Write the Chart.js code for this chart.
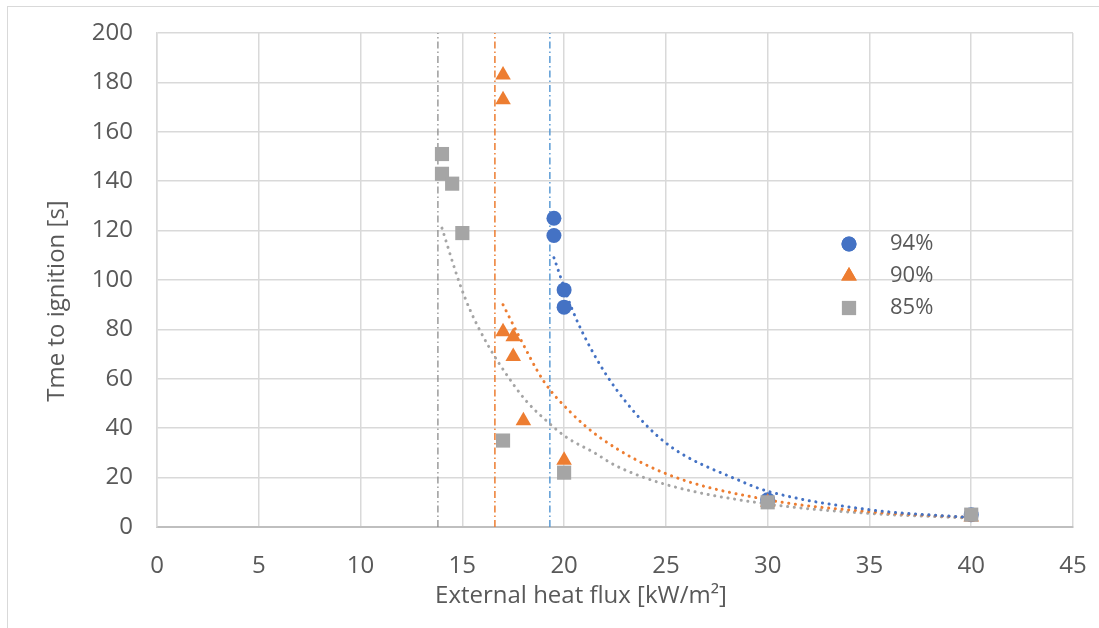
<!DOCTYPE html>
<html>
<head>
<meta charset="utf-8">
<script src="https://cdn.jsdelivr.net/npm/chart.js@4.4.0/dist/chart.umd.min.js"></script>
<style>
  body { margin: 0; background: #fff; }
  #wrap { position: relative; width: 1099px; height: 628px; overflow: hidden; }
  #frame { position: absolute; left: 7px; top: 6px; width: 1100px; height: 640px; border: 1.5px solid #d9d9d9; }
  #grafica { position: absolute; left: 0; top: 0; }
</style>
</head>
<body>
<div id="wrap">
  <div id="frame"></div>
  <canvas id="grafica" width="1099" height="628"></canvas>
</div>
<script>
// measured ignition times
var x94 = [19.5, 19.5, 20, 20, 30, 40];
var y94 = [125, 118, 96, 89, 11, 5];
var x90 = [17, 17, 17, 17.5, 17.5, 18, 20, 30, 40];
var y90 = [183, 173, 79, 77, 69, 43, 27, 10, 4];
var x85 = [14, 14, 14.5, 15, 17, 20, 30, 40];
var y85 = [151, 143, 139, 119, 35, 22, 10, 5];

// trend curves (power fit) read at a few heat flux values
var tx94 = [19.5, 20.4, 21.6, 23, 25, 28.7, 30, 35, 40];
var ty94 = [109, 88, 68, 51, 34, 18.5, 14.5, 7, 3.8];
var tx90 = [17, 17.8, 19, 20.3, 21.8, 25, 30, 35, 40];
var ty90 = [90, 77, 59, 46.6, 36, 21.6, 11, 6.2, 3.8];
var tx85 = [14, 14.85, 15.4, 16.3, 17.15, 18.1, 19.2, 20.1, 21.5, 22.5, 25, 30, 35, 40];
var ty85 = [121, 99, 87.5, 73, 62, 51.4, 42.5, 36.4, 30, 25, 17.2, 9.3, 5.5, 3.6];

// critical heat flux markers
var critX = [19.3, 16.6, 13.8];

var labels = ["94%", "90%", "85%"];
var colors = ["#4472c4", "#ed7d31", "#a5a5a5"];
var xTitle = "External heat flux [kW/m²]";
var yTitle = "Tme to ignition [s]";

function pts(xs, ys) {
    var out = [];
    for (var i = 0; i < xs.length; i++) out.push({x: xs[i], y: ys[i]});
    return out;
}

function scatterSet(label, xs, ys, color, style, r, ord) {
    return {
        type: 'scatter',
        label: label,
        data: pts(xs, ys),
        backgroundColor: color,
        borderColor: color,
        borderWidth: 0,
        pointStyle: style,
        pointRadius: r,
        order: ord
    };
}

function trendSet(xs, ys, color) {
    return {
        type: 'line',
        data: pts(xs, ys),
        borderColor: color,
        borderWidth: 3,
        borderDash: [0.1, 6.6],
        borderCapStyle: 'round',
        cubicInterpolationMode: 'monotone',
        pointRadius: 0,
        fill: false,
        order: 4
    };
}

function critSet(x, color, w) {
    return {
        type: 'line',
        data: [{x: x, y: 0}, {x: x, y: 200}],
        borderColor: color,
        borderWidth: w,
        borderDash: [7, 3, 1.5, 3],
        pointRadius: 0,
        fill: false,
        order: 5
    };
}

var FONT = "'Open Sans', 'DejaVu Sans', sans-serif";
var TEXT = '#595959';

// legend over the plot area (no box) and both axis titles
var textPlugin = {
    id: 'plotText',
    afterDraw: function(chart) {
        var ctx = chart.ctx;
        var rows = [244, 276, 308];
        var styles = ['circle', 'triangle', 'rect'];
        var radii = [7.5, 9, 10];
        ctx.save();
        ctx.textBaseline = 'middle';
        ctx.textAlign = 'left';
        ctx.font = "22px " + FONT;
        for (var i = 0; i < 3; i++) {
            ctx.fillStyle = colors[i];
            Chart.helpers.drawPoint(ctx, {pointStyle: styles[i], radius: radii[i], borderWidth: 0}, 849, rows[i]);
            ctx.fill();
            ctx.fillStyle = TEXT;
            ctx.fillText(labels[i], 890, rows[i]);
        }
        ctx.font = "24px " + FONT;
        ctx.textAlign = 'center';
        ctx.fillText(xTitle, 581, 596);
        ctx.translate(57, 301);
        ctx.rotate(-Math.PI / 2);
        ctx.fillText(yTitle, 0, 0);
        ctx.restore();
    }
};

var ctx = document.getElementById('grafica').getContext('2d');
var chart = new Chart(ctx, {
    data: {
        datasets: [
            scatterSet(labels[0], x94, y94, colors[0], 'circle', 7.5, 3),
            scatterSet(labels[1], x90, y90, colors[1], 'triangle', 9, 2),
            scatterSet(labels[2], x85, y85, colors[2], 'rect', 10, 1),
            trendSet(tx94, ty94, colors[0]),
            trendSet(tx90, ty90, colors[1]),
            trendSet(tx85, ty85, colors[2]),
            critSet(critX[0], '#5b9bd5', 1.5),
            critSet(critX[1], '#ed7d31', 1.5),
            critSet(critX[2], '#8c8c8c', 1.3)
        ]
    },
    options: {
        animation: false,
        responsive: false,
        maintainAspectRatio: false,
        layout: { padding: { left: 0, top: 33, right: 26, bottom: 0 } },
        plugins: {
            legend: { display: false },
            tooltip: { enabled: false }
        },
        scales: {
            x: {
                type: 'linear',
                min: 0,
                max: 45,
                ticks: {
                    stepSize: 5,
                    padding: 25,
                    color: TEXT,
                    font: { family: FONT, size: 24 },
                    maxRotation: 0
                },
                grid: { color: '#d9d9d9', lineWidth: 1.5, drawTicks: false },
                border: { display: true, color: '#bfbfbf', width: 2 },
                afterFit: function(scale) {
                    scale.height = 628 - 527;
                    scale.paddingLeft = 0;
                    scale.paddingRight = 0;
                }
            },
            y: {
                type: 'linear',
                min: 0,
                max: 200,
                ticks: {
                    stepSize: 20,
                    padding: 24,
                    color: TEXT,
                    font: { family: FONT, size: 24 }
                },
                grid: { color: '#d9d9d9', lineWidth: 1.5, drawTicks: false },
                border: { display: true, color: '#d9d9d9', width: 1.5 },
                afterFit: function(scale) {
                    scale.width = 157;
                    scale.paddingTop = 0;
                    scale.paddingBottom = 0;
                }
            }
        }
    },
    plugins: [textPlugin]
});
</script>
</body>
</html>
